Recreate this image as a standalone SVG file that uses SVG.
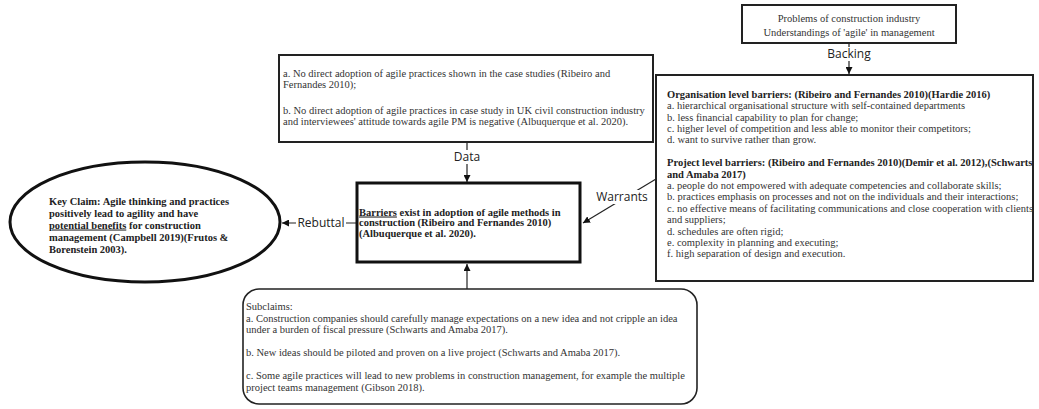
<svg xmlns="http://www.w3.org/2000/svg" width="1039" height="409" viewBox="0 0 1039 409">
<style>
.t{font-family:"Liberation Serif","Times New Roman",serif;font-size:10.5px;fill:#333}
.b{font-family:"Liberation Serif","Times New Roman",serif;font-size:10.5px;font-weight:bold;fill:#222}
.lbl{font-family:"Open Sans","DejaVu Sans",sans-serif;font-size:12px;fill:#222}
.box{fill:#fff;stroke:#222;stroke-width:2}
.thick{fill:#fff;stroke:#111;stroke-width:3}
.edge{stroke:#222;stroke-width:1.2;fill:none}
.u{text-decoration:underline}
</style>
<defs>
<marker id="ah" viewBox="0 0 10 10" refX="10" refY="5" markerWidth="7" markerHeight="7" markerUnits="userSpaceOnUse" orient="auto">
<path d="M0,0 L10,5 L0,10 z" fill="#111"/>
</marker>
</defs>
<rect width="1039" height="409" fill="#fff"/>

<g id="connectors">
<path class="edge" d="M849,43 L849,74" marker-end="url(#ah)"/>
<path class="edge" d="M467,142 L467,182" marker-end="url(#ah)"/>
<path class="edge" d="M656,179 L583,223" marker-end="url(#ah)"/>
<path class="edge" d="M357,223 L282,223" marker-end="url(#ah)"/>
<path class="edge" d="M467,289 L467,264" marker-end="url(#ah)"/>
<rect x="826" y="47" width="46" height="14" fill="#fff"/>
<text class="lbl" x="849" y="58" text-anchor="middle">Backing</text>
<rect x="452" y="150" width="30" height="14" fill="#fff"/>
<text class="lbl" x="467" y="161" text-anchor="middle">Data</text>
<rect x="594" y="190" width="56" height="14" fill="#fff"/>
<text class="lbl" x="622" y="201" text-anchor="middle">Warrants</text>
<rect x="296" y="216" width="50" height="14" fill="#fff"/>
<text class="lbl" x="321" y="227" text-anchor="middle">Rebuttal</text>
</g>

<g id="backing">
<rect class="box" x="742" y="5" width="214" height="38"/>
<text class="t" x="849" y="21.5" text-anchor="middle">Problems of construction industry</text>
<text class="t" x="849" y="35.5" text-anchor="middle">Understandings of 'agile' in management</text>
</g>

<g id="data">
<rect class="box" x="279" y="55" width="374" height="87"/>
<text class="t" x="283" y="77">a. No direct adoption of agile practices shown in the case studies (Ribeiro and</text>
<text class="t" x="283" y="88">Fernandes 2010);</text>
<text class="t" x="283" y="114">b. No direct adoption of agile practices in case study in UK civil construction industry</text>
<text class="t" x="283" y="125">and interviewees' attitude towards agile PM is negative (Albuquerque et al. 2020).</text>
</g>

<g id="warrants">
<rect class="box" x="656" y="75" width="377" height="206"/>
<text class="b" x="667" y="97.7">Organisation level barriers: (Ribeiro and Fernandes 2010)(Hardie 2016)</text>
<text class="t" x="667" y="109.1">a. hierarchical organisational structure with self-contained departments</text>
<text class="t" x="667" y="120.5">b. less financial capability to plan for change;</text>
<text class="t" x="667" y="131.9">c. higher level of competition and less able to monitor their competitors;</text>
<text class="t" x="667" y="143.3">d. want to survive rather than grow.</text>
<text class="b" x="667" y="166.1">Project level barriers: (Ribeiro and Fernandes 2010)(Demir et al. 2012),(Schwarts</text>
<text class="b" x="667" y="177.5">and Amaba 2017)</text>
<text class="t" x="667" y="188.9">a. people do not empowered with adequate competencies and collaborate skills;</text>
<text class="t" x="667" y="200.3">b. practices emphasis on processes and not on the individuals and their interactions;</text>
<text class="t" x="667" y="211.7">c. no effective means of facilitating communications and close cooperation with clients</text>
<text class="t" x="667" y="223.1">and suppliers;</text>
<text class="t" x="667" y="234.5">d. schedules are often rigid;</text>
<text class="t" x="667" y="245.9">e. complexity in planning and executing;</text>
<text class="t" x="667" y="257.3">f. high separation of design and execution.</text>
</g>

<g id="claim">
<rect class="thick" x="357" y="183" width="223" height="79"/>
<text class="b" x="359" y="215.5"><tspan class="u">Barriers</tspan> exist in adoption of agile methods in</text>
<text class="b" x="359" y="226">construction (Ribeiro and Fernandes 2010)</text>
<text class="b" x="359" y="236.5">(Albuquerque et al. 2020).</text>
</g>

<g id="keyclaim">
<ellipse class="thick" cx="145" cy="222" rx="135" ry="60"/>
<text class="b" x="49" y="204.5">Key Claim: Agile thinking and practices</text>
<text class="b" x="49" y="216.5">positively lead to agility and have</text>
<text class="b" x="49" y="228.5"><tspan class="u">potential benefits</tspan> for construction</text>
<text class="b" x="49" y="240.5">management (Campbell 2019)(Frutos &amp;</text>
<text class="b" x="49" y="252.5">Borenstein 2003).</text>
</g>

<g id="subclaims">
<rect class="box" x="243" y="289" width="454" height="115" rx="16" ry="16" style="stroke-width:1.6"/>
<text class="t" x="246" y="310">Subclaims:</text>
<text class="t" x="246" y="321.5">a. Construction companies should carefully manage expectations on a new idea and not cripple an idea</text>
<text class="t" x="246" y="333">under a burden of fiscal pressure (Schwarts and Amaba 2017).</text>
<text class="t" x="246" y="356">b. New ideas should be piloted and proven on a live project (Schwarts and Amaba 2017).</text>
<text class="t" x="246" y="379">c. Some agile practices will lead to new problems in construction management, for example the multiple</text>
<text class="t" x="246" y="390.5">project teams management (Gibson 2018).</text>
</g>
</svg>
